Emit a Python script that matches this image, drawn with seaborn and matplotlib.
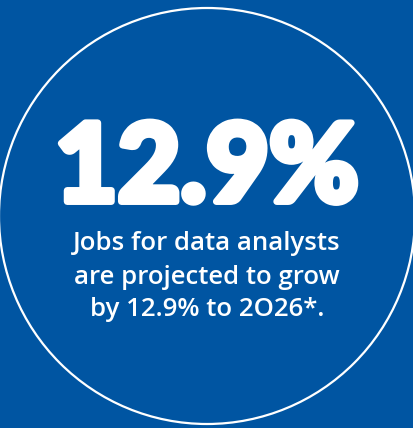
import matplotlib
matplotlib.use("Agg")
import matplotlib.pyplot as plt
from matplotlib.patches import Circle
import matplotlib.patheffects as pe
import seaborn as sns

# Data shown in the graphic
growth_pct = 12.9
target_year = 2026
caption_lines = [
    "Jobs for data analysts",
    "are projected to grow",
    f"by {growth_pct}% to {str(target_year).replace('0', 'O')}*.",
]

bg_color = "#0055a2"

sns.set_theme(style="white")
plt.rcParams["font.family"] = ["Lato", "DejaVu Sans"]

fig = plt.figure(figsize=(4.14, 4.28), dpi=100, facecolor=bg_color)
ax = fig.add_axes([0, 0, 1, 1])
ax.set_facecolor(bg_color)
ax.set_xlim(0, 414)
ax.set_ylim(428, 0)
ax.axis("off")

# ring
ax.add_patch(Circle((207, 216), 208, fill=False, edgecolor="white", linewidth=1.6))

# headline number, thickened with a stroke
ax.text(207, 170, f"{growth_pct}%", ha="center", va="center", color="white",
        fontsize=78, fontweight="black",
        path_effects=[pe.withStroke(linewidth=5, foreground="white")])

# caption
for i, line in enumerate(caption_lines):
    ax.text(207, 244 + i * 33, line, ha="center", va="center", color="white",
            fontsize=18.5, fontweight="semibold", family=["Open Sans", "DejaVu Sans"])

fig.savefig("out.png", dpi=100, facecolor=bg_color)
